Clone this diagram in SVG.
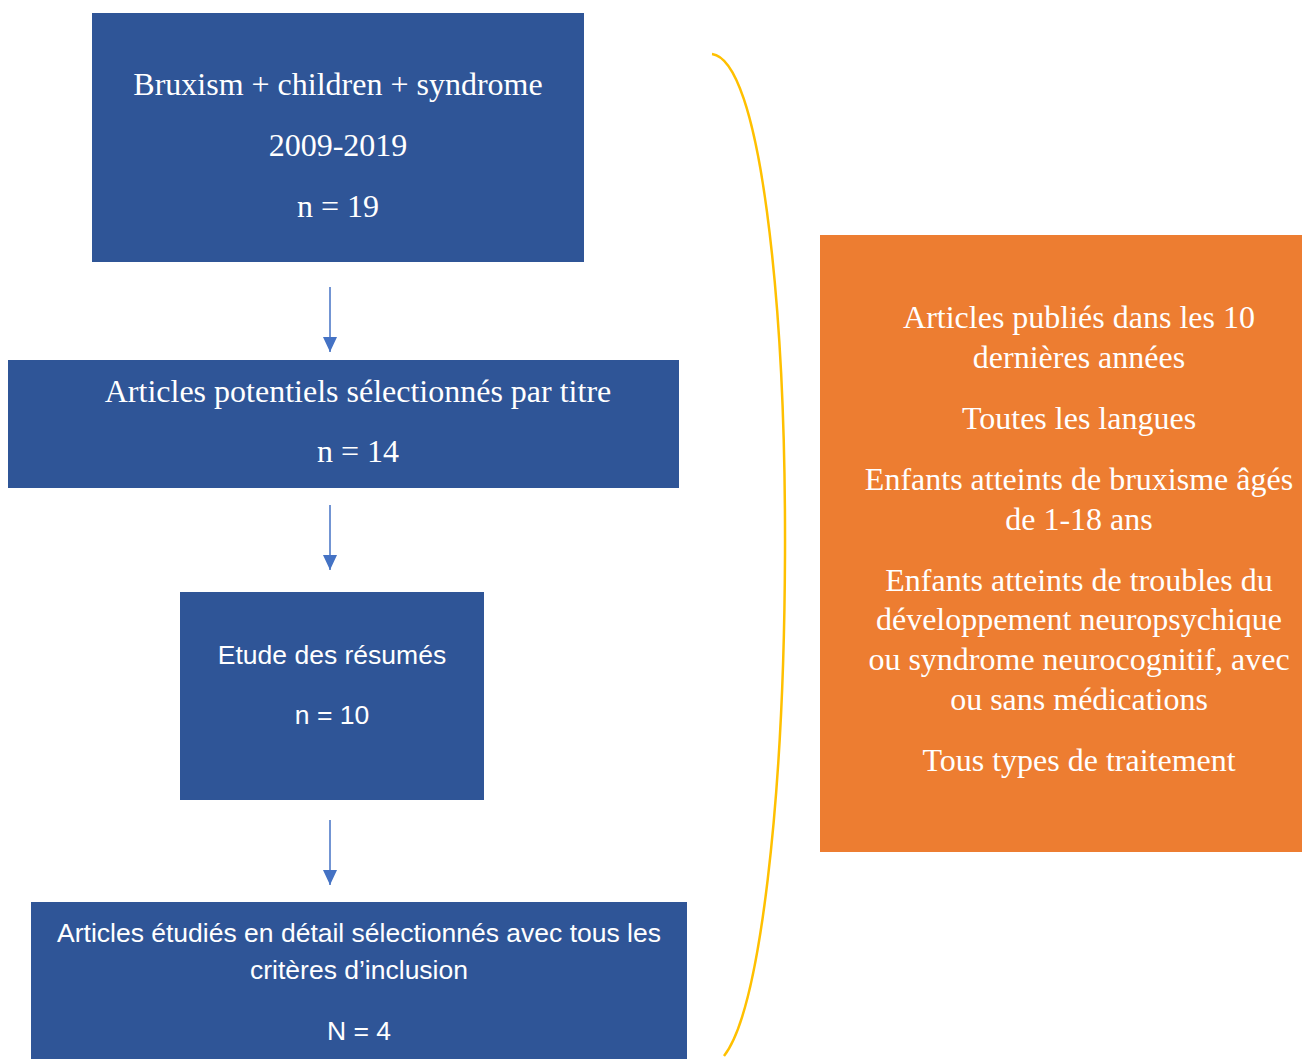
<svg xmlns="http://www.w3.org/2000/svg" width="1302" height="1059" viewBox="0 0 1302 1059">
<style>
.box{fill:#2F5597;}
.ser{font-family:"Liberation Serif","Times New Roman",serif;font-size:32px;fill:#fff;text-anchor:middle;}
.sans{font-family:"Liberation Sans",Arial,sans-serif;font-size:26.5px;fill:#fff;text-anchor:middle;}
.conn{stroke:#4472C4;stroke-width:1.5;fill:none;}
</style>
<defs>
<marker id="ah" markerWidth="15" markerHeight="14" refX="15" refY="7" orient="auto" markerUnits="userSpaceOnUse" viewBox="0 0 15 14">
<path d="M0,0 L15,7 L0,14 Z" fill="#4472C4"/>
</marker>
</defs>
<rect width="1302" height="1059" fill="#fff"/>
<g id="n1">
<rect class="box" x="92" y="13" width="492" height="249"/>
<text class="ser" x="338" y="95">Bruxism + children + syndrome</text>
<text class="ser" x="338" y="156">2009-2019</text>
<text class="ser" x="338" y="217">n = 19</text>
</g>
<g id="n2">
<rect class="box" x="8" y="360" width="671" height="128"/>
<text class="ser" x="358" y="402">Articles potentiels sélectionnés par titre</text>
<text class="ser" x="358" y="462">n = 14</text>
</g>
<g id="n3">
<rect class="box" x="180" y="592" width="304" height="208"/>
<text class="sans" x="332" y="664">Etude des résumés</text>
<text class="sans" x="332" y="724">n = 10</text>
</g>
<g id="n4">
<rect class="box" x="31" y="902" width="656" height="157"/>
<text class="sans" x="359" y="942">Articles étudiés en détail sélectionnés avec tous les</text>
<text class="sans" x="359" y="979">critères d’inclusion</text>
<text class="sans" x="359" y="1040">N = 4</text>
</g>
<g id="n5">
<rect x="820" y="235" width="482" height="617" fill="#ED7D31"/>
<text class="ser" x="1079" y="328">Articles publiés dans les 10</text>
<text class="ser" x="1079" y="368">dernières années</text>
<text class="ser" x="1079" y="429">Toutes les langues</text>
<text class="ser" x="1079" y="490">Enfants atteints de bruxisme âgés</text>
<text class="ser" x="1079" y="530">de 1-18 ans</text>
<text class="ser" x="1079" y="591">Enfants atteints de troubles du</text>
<text class="ser" x="1079" y="630">développement neuropsychique</text>
<text class="ser" x="1079" y="670">ou syndrome neurocognitif, avec</text>
<text class="ser" x="1079" y="710">ou sans médications</text>
<text class="ser" x="1079" y="771">Tous types de traitement</text>
</g>
<g id="connectors">
<line class="conn" x1="330" y1="287" x2="330" y2="352" marker-end="url(#ah)"/>
<line class="conn" x1="330" y1="505" x2="330" y2="570" marker-end="url(#ah)"/>
<line class="conn" x1="330" y1="820" x2="330" y2="885" marker-end="url(#ah)"/>
<path d="M712,54 C760,60 786,300 785,555 C784,800 760,1010 724,1056" fill="none" stroke="#FFC000" stroke-width="2.5"/>
</g>
</svg>
